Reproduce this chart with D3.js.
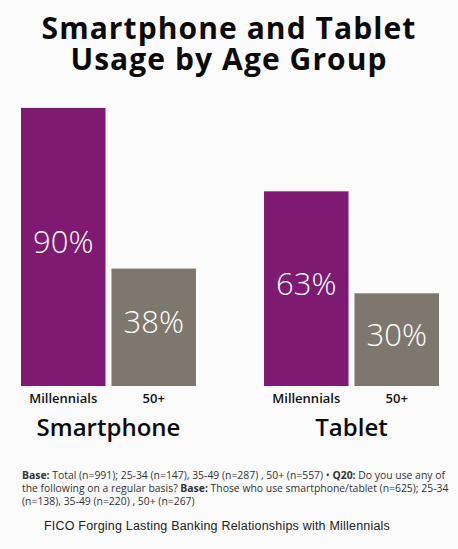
<!DOCTYPE html>
<html>
<head>
<meta charset="utf-8">
<script src="https://cdn.jsdelivr.net/npm/d3@7"></script>
<style>
  html, body { margin: 0; padding: 0; background: #fcfbfc; }
  svg { display: block; }
</style>
</head>
<body>
<svg id="chart"></svg>
<script>
// data
const devices = ["Smartphone", "Tablet"];
const ageGroups = ["Millennials", "50+"];
const millennials = [90, 63];
const fiftyPlus = [38, 30];
const titleLines = ["Smartphone and Tablet", "Usage by Age Group"];
const noteLines = [
    [["Base:", true], [" Total (n=991); 25-34 (n=147), 35-49 (n=287) , 50+ (n=557) \u2022 ", false], ["Q20:", true], [" Do you use any of", false]],
    [["the following on a regular basis? ", false], ["Base:", true], [" Those who use smartphone/tablet (n=625); 25-34", false]],
    [["(n=138), 35-49 (n=220) , 50+ (n=267)", false]]
];
const sourceText = "FICO Forging Lasting Banking Relationships with Millennials";

const width = 458, height = 549;
const colors = { "Millennials": "#7e1a72", "50+": "#7e776d" };

const svg = d3.select("#chart").attr("width", width).attr("height", height);

// flatten into one row per bar
var bars = [];
devices.forEach((dev, i) => {
    bars.push({ device: dev, age: "Millennials", value: millennials[i] });
    bars.push({ device: dev, age: "50+", value: fiftyPlus[i] });
});

const x0 = d3.scaleBand().domain(devices).range([21, 439]).paddingInner(0.28).paddingOuter(0);
const x1 = d3.scaleBand().domain(ageGroups).range([0, x0.bandwidth()]).paddingInner(0.066).paddingOuter(0);
const y = d3.scaleLinear().domain([0, 100]).range([386, 77]);

// title, one text with a tspan per line
const title = svg.append("text")
    .attr("text-anchor", "middle")
    .style("font", "bold 30px 'Open Sans', sans-serif")
    .style("fill", "#0a0a0a");

title.selectAll("tspan")
    .data(titleLines)
    .enter().append("tspan")
    .attr("x", width / 2)
    .attr("y", (d, i) => 39 + i * 31)
    .text(d => d);

// squeeze the tracking so the first line is about 375px wide like the original
var firstLine = title.select("tspan").node();
var w = firstLine.getComputedTextLength();
var ls = (375 - w) / titleLines[0].length;
title.style("letter-spacing", ls.toFixed(2) + "px");

// bars
const groups = svg.append("g")
    .selectAll("g")
    .data(bars)
    .enter().append("g")
    .attr("transform", d => "translate(" + (x0(d.device) + x1(d.age)) + ",0)");

groups.append("rect")
    .attr("x", 0)
    .attr("y", d => y(d.value))
    .attr("width", x1.bandwidth())
    .attr("height", d => y(0) - y(d.value))
    .style("fill", d => colors[d.age]);

groups.append("text")
    .attr("x", x1.bandwidth() / 2)
    .attr("y", d => (y(d.value) + y(0)) / 2 + 6)
    .attr("text-anchor", "middle")
    .style("font", "300 31px 'Open Sans', sans-serif")
    .style("fill", "#ffffff")
    .text(d => d.value + "%");

groups.append("text")
    .attr("x", x1.bandwidth() / 2)
    .attr("y", 403)
    .attr("text-anchor", "middle")
    .style("font", "600 13px 'Open Sans', sans-serif")
    .style("fill", "#111")
    .text(d => d.age);

// device labels
svg.append("g")
    .selectAll("text")
    .data(devices)
    .enter().append("text")
    .attr("x", d => x0(d) + x0.bandwidth() / 2)
    .attr("y", 436)
    .attr("text-anchor", "middle")
    .style("font", "600 24px 'Open Sans', sans-serif")
    .style("fill", "#0a0a0a")
    .text(d => d);

// footnote
const note = svg.append("g")
    .selectAll("text")
    .data(noteLines)
    .enter().append("text")
    .attr("x", 22)
    .attr("y", (d, i) => 479 + i * 13)
    .style("font", "10.4px 'Open Sans', sans-serif")
    .style("fill", "#333");

note.selectAll("tspan")
    .data(d => d)
    .enter().append("tspan")
    .style("font-weight", d => d[1] ? "bold" : "normal")
    .text(d => d[0]);

svg.append("text")
    .attr("x", 44)
    .attr("y", 530)
    .style("font", "12.5px 'Liberation Sans', Arial, sans-serif")
    .style("letter-spacing", "0.2px")
    .style("fill", "#222")
    .text(sourceText);
</script>
</body>
</html>
